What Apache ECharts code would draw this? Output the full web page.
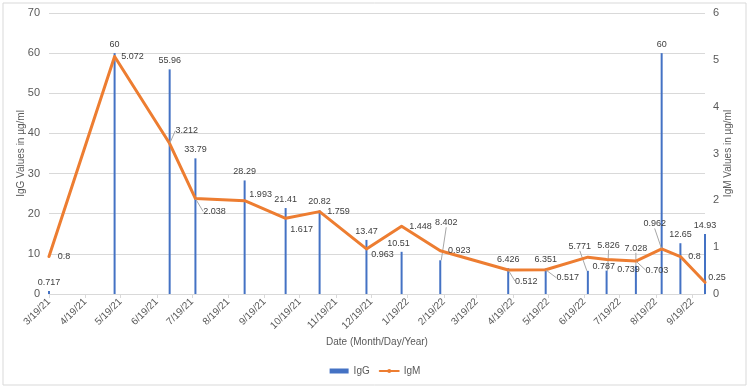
<!DOCTYPE html>
<html><head><meta charset="utf-8">
<script src="https://cdn.jsdelivr.net/npm/echarts@6/dist/echarts.min.js"></script>
<style>html,body{margin:0;padding:0;background:#fff}#c{width:750px;height:387px}</style>
</head><body><div id="c"></div>
<script>
// ---- data ----
const dates = ['2021-03-19','2021-05-14','2021-06-30','2021-07-22','2021-09-02','2021-10-07','2021-11-05','2021-12-15','2022-01-14','2022-02-16','2022-04-15','2022-05-17','2022-06-22','2022-07-08','2022-08-02','2022-08-24','2022-09-09','2022-09-30'];
const igg = [0.717,60,55.96,33.79,28.29,21.41,20.82,13.47,10.51,8.402,6.426,6.351,5.771,5.826,7.028,60,12.65,14.93];
const igm = [0.8,5.072,3.212,2.038,1.993,1.617,1.759,0.963,1.448,0.923,0.512,0.517,0.787,0.739,0.703,0.962,0.8,0.25];
const tickLabels = ['3/19/21','4/19/21','5/19/21','6/19/21','7/19/21','8/19/21','9/19/21','10/19/21','11/19/21','12/19/21','1/19/22','2/19/22','3/19/22','4/19/22','5/19/22','6/19/22','7/19/22','8/19/22','9/19/22'];
const leftTicks = [0,10,20,30,40,50,60,70];
const rightTicks = [0,1,2,3,4,5,6];

// ---- label placement (layout only) ----
const iggShift = [[0,0],[0,0],[0,0],[0,0],[0,0],[0,0],[0,0],[0,0],[-3,0],[6,-29],[0,0],[0,0],[-8,-16],[2,-17],[0,-9],[0,0],[0,0],[0,0]];
const iggLeader = [9,12,13,14];
const igmShift = [[15,0],[18,0],[17,-13],[19,13],[16,-6],[16,11],[19,0],[16,6],[19,0],[19,0],[18,11],[22,8],[16,9],[22,10],[21,9],[-7,-25],[14,0],[12,-5]];
const igmLeader = [2,3,10,11,14,15];

const DAY = 86400000;
function toTime(s){const p=s.split('-').map(Number);return Date.UTC(p[0],p[1]-1,p[2]);}
function tickTime(s){const p=s.split('/').map(Number);return Date.UTC(2000+p[2],p[0]-1,p[1]);}
const t0 = toTime(dates[0]);
const days = dates.map(s=>Math.round((toTime(s)-t0)/DAY));
const tickDays = tickLabels.map(s=>Math.round((tickTime(s)-t0)/DAY));

const FONT = 'Liberation Sans';
const chart = echarts.init(document.getElementById('c'), null, {renderer:'canvas'});
const option = {
  animation:false,
  textStyle:{fontFamily:FONT},
  graphic:[{type:'rect',shape:{x:3,y:3,width:743,height:382},style:{fill:'none',stroke:'#D9D9D9',lineWidth:1},silent:true}],
  grid:{left:49,right:45,top:13,bottom:93,outerBoundsMode:'none'},
  legend:{
    bottom:6,left:'center',itemWidth:19,itemHeight:5,itemGap:9,
    textStyle:{color:'#595959',fontSize:10,fontFamily:FONT},
    data:[{name:'IgG',icon:'rect'},{name:'IgM'}]
  },
  xAxis:{
    type:'value',min:days[0],max:days[days.length-1],
    name:'Date (Month/Day/Year)',nameLocation:'middle',nameGap:43,nameMoveOverlap:false,
    nameTextStyle:{color:'#595959',fontSize:10,fontFamily:FONT},
    axisLine:{lineStyle:{color:'#D9D9D9'}},
    axisTick:{show:true,length:4,lineStyle:{color:'#D9D9D9'},customValues:tickDays},
    axisLabel:{customValues:tickDays,rotate:45,margin:6,color:'#595959',fontSize:10,fontFamily:FONT,
      showMinLabel:true,showMaxLabel:true,
      formatter:function(v){const i=tickDays.indexOf(v);return i>=0?tickLabels[i]:'';}},
    splitLine:{show:false}
  },
  yAxis:[{
    type:'value',min:leftTicks[0],max:leftTicks[leftTicks.length-1],interval:10,
    name:'IgG Values in µg/ml',nameLocation:'middle',nameGap:23,nameMoveOverlap:false,
    nameTextStyle:{color:'#595959',fontSize:10,fontFamily:FONT},
    axisLine:{show:false},axisTick:{show:false},
    axisLabel:{color:'#595959',fontSize:11,margin:9,fontFamily:FONT},
    splitLine:{lineStyle:{color:'#D9D9D9',width:1}}
  },{
    type:'value',position:'right',min:rightTicks[0],max:rightTicks[rightTicks.length-1],interval:1,
    name:'IgM Values in µg/ml',nameLocation:'middle',nameGap:18,nameMoveOverlap:false,
    nameTextStyle:{color:'#595959',fontSize:10,fontFamily:FONT},
    axisLine:{show:false},axisTick:{show:false},
    axisLabel:{color:'#595959',fontSize:11,margin:8,fontFamily:FONT},
    splitLine:{show:false}
  }],
  series:[{
    name:'IgG',type:'bar',yAxisIndex:0,barWidth:2,
    itemStyle:{color:'#4472C4'},
    data:days.map((t,i)=>({value:[t,igg[i]],labelLine:{show:iggLeader.indexOf(i)>=0}})),
    label:{show:true,position:'top',distance:4,color:'#404040',fontSize:9,fontFamily:FONT,
      formatter:p=>String(p.value[1])},
    labelLine:{show:false,lineStyle:{color:'#A6A6A6',width:1}},
    labelLayout:p=>({dx:iggShift[p.dataIndex][0],dy:iggShift[p.dataIndex][1]})
  },{
    name:'IgM',type:'line',yAxisIndex:1,symbol:'circle',symbolSize:1,showSymbol:true,
    itemStyle:{color:'#ED7D31'},
    lineStyle:{color:'#ED7D31',width:3,join:'round',cap:'round'},
    data:days.map((t,i)=>({value:[t,igm[i]],labelLine:{show:igmLeader.indexOf(i)>=0}})),
    label:{show:true,position:'inside',color:'#404040',fontSize:9,fontFamily:FONT,
      formatter:p=>String(p.value[1])},
    labelLine:{show:false,lineStyle:{color:'#A6A6A6',width:1}},
    labelLayout:p=>({dx:igmShift[p.dataIndex][0],dy:igmShift[p.dataIndex][1]}),
    z:3
  }]
};
chart.setOption(option);
</script></body></html>
